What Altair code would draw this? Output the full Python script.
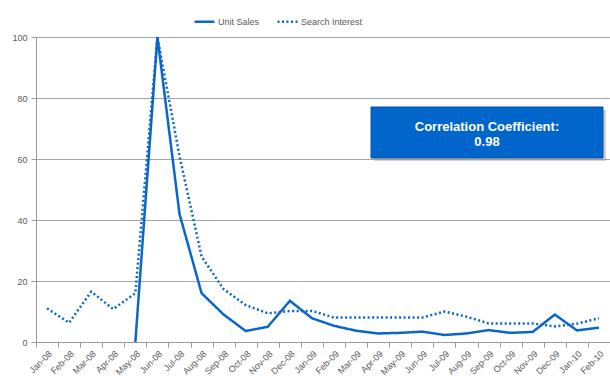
import altair as alt
import pandas as pd

months = ["Jan-08","Feb-08","Mar-08","Apr-08","May-08","Jun-08","Jul-08","Aug-08","Sep-08",
          "Oct-08","Nov-08","Dec-08","Jan-09","Feb-09","Mar-09","Apr-09","May-09","Jun-09",
          "Jul-09","Aug-09","Sep-09","Oct-09","Nov-09","Dec-09","Jan-10","Feb-10"]
unit_sales = [None, None, None, None, 0, 100, 42, 16, 9, 3.6, 5, 13.5, 7.8, 5.3, 3.7, 2.8,
              3.0, 3.4, 2.3, 2.8, 3.9, 3.0, 3.3, 9.0, 3.8, 4.7]
search_interest = [11, 6.3, 16.5, 10.8, 16, 100, 61, 28, 17.3, 12.1, 9.4, 10.2, 10.2, 8.0, 8.0,
                   8.0, 8.0, 8.0, 10, 8.3, 6.1, 6.1, 6.1, 5.1, 6.0, 7.8]
series_names = ["Unit Sales", "Search Interest"]
annotation = ["Correlation Coefficient:", "0.98"]

rows = []
for m, u, s in zip(months, unit_sales, search_interest):
    rows.append({"month": m, "series": series_names[0], "value": u})
    rows.append({"month": m, "series": series_names[1], "value": s})
df = pd.DataFrame(rows)

BLUE = "#0a66c8"
FONT = "Liberation Sans"

lines = alt.Chart(df).mark_line(strokeWidth=2.5, color=BLUE).encode(
    x=alt.X("month:N", sort=months, bandPosition=0.5,
            scale=alt.Scale(type="band", paddingInner=0, paddingOuter=0),
            axis=alt.Axis(title=None, labelAngle=-45, tickBand="extent", grid=False,
                          labelFontSize=9, labelColor="#595959", labelFont=FONT,
                          domainColor="#999999", tickColor="#999999", tickSize=5,
                          labelPadding=2)),
    y=alt.Y("value:Q", scale=alt.Scale(domain=[0, 100], nice=False),
            axis=alt.Axis(title=None, values=[0, 20, 40, 60, 80, 100], grid=True,
                          gridColor="#a6a6a6", labelFontSize=9, labelColor="#595959",
                          labelFont=FONT, domainColor="#999999", tickColor="#999999",
                          tickSize=5, labelPadding=4)),
    strokeDash=alt.StrokeDash("series:N",
                              scale=alt.Scale(domain=series_names, range=[[1, 0], [2, 2.5]]),
                              legend=alt.Legend(title=None, orient="none", direction="horizontal",
                                                legendX=157, legendY=-27, symbolType="stroke",
                                                symbolStrokeColor=BLUE, symbolStrokeWidth=2.5,
                                                symbolSize=400, labelFontSize=9,
                                                labelColor="#595959", labelFont=FONT,
                                                columnPadding=12, labelOffset=2)),
    detail="series:N",
)

box_df = pd.DataFrame({"t": annotation[:1]})
shadow = alt.Chart(box_df).mark_rect(color="#9a9a9a", opacity=0.45).encode(
    x=alt.value(338), x2=alt.value(570), y=alt.value(73), y2=alt.value(124))
box = alt.Chart(box_df).mark_rect(color="#0066cc", stroke="#0a4fa0", strokeWidth=1).encode(
    x=alt.value(335), x2=alt.value(567), y=alt.value(70), y2=alt.value(121))
txt1 = alt.Chart(pd.DataFrame({"t": [annotation[0]]})).mark_text(
    color="white", fontWeight="bold", fontSize=13, font=FONT).encode(
    x=alt.value(451), y=alt.value(90), text="t:N")
txt2 = alt.Chart(pd.DataFrame({"t": [annotation[1]]})).mark_text(
    color="white", fontWeight="bold", fontSize=13, font=FONT).encode(
    x=alt.value(451), y=alt.value(105), text="t:N")

chart = alt.layer(lines, shadow, box, txt1, txt2).properties(
    width=574, height=305,
    padding={"left": 36, "top": 37, "right": 0, "bottom": 36},
    autosize=alt.AutoSizeParams(type="none"),
    background="white",
).configure_view(stroke=None)

chart.save("out.html", embed_options={"renderer": "svg", "actions": False})
